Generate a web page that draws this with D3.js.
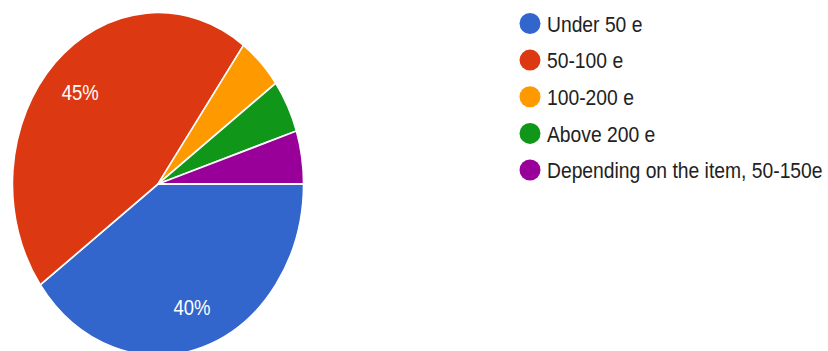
<!DOCTYPE html>
<html>
<head>
<meta charset="utf-8">
<script src="https://cdn.jsdelivr.net/npm/d3@7"></script>
<style>
  html, body { margin: 0; padding: 0; background: #fff; }
  svg { display: block; }
</style>
</head>
<body>
<svg id="chart" width="828" height="351"></svg>
<script>
const categories = ["Under 50 e", "50-100 e", "100-200 e", "Above 200 e", "Depending on the item, 50-150e"];
const values = [40, 45, 5, 5, 5];
const colors = ["#3366cc", "#dc3912", "#ff9900", "#109618", "#990099"];
const sliceLabels = ["40%", "45%", "", "", ""];

const W = 828, H = 351;
const R = 145.5;
const SY = 171.5 / R;         // vertical stretch of the whole picture
const cx = 158, cy = 184 / SY;

const svg = d3.select("#chart");
const root = svg.append("g").attr("transform", `scale(1,${SY})`);

const data = categories.map((c, i) => ({ cat: c, value: values[i], color: colors[i], label: sliceLabels[i] }));

const pie = d3.pie().value(d => d.value).sort(null)
  .startAngle(Math.PI / 2).endAngle(Math.PI / 2 + 2 * Math.PI);
const arcs = pie(data);
const arc = d3.arc().innerRadius(0).outerRadius(R);
const labelArc = d3.arc().innerRadius(110).outerRadius(110);

const pg = root.append("g").attr("transform", `translate(${cx},${cy})`);
pg.selectAll("path").data(arcs).join("path")
  .attr("d", arc)
  .attr("fill", d => d.data.color)
  .attr("stroke", "#ffffff")
  .attr("stroke-width", 1.5)
  .attr("stroke-linejoin", "round");

pg.selectAll("text").data(arcs.filter(d => d.data.label)).join("text")
  .attr("transform", d => `translate(${labelArc.centroid(d)})`)
  .attr("text-anchor", "middle")
  .attr("dy", "0.36em")
  .attr("fill", "#ffffff")
  .attr("font-family", "Arial, 'Liberation Sans', sans-serif")
  .attr("font-size", 18.5)
  .text(d => d.data.label);

// Legend
const legY = d3.scalePoint().domain(categories).range([23.5 / SY, 170 / SY]);
const lg = root.append("g");
const rows = lg.selectAll("g").data(data).join("g")
  .attr("transform", d => `translate(530,${legY(d.cat)})`);
rows.append("ellipse")
  .attr("rx", 10.5).attr("ry", 10.5 / SY)
  .attr("fill", d => d.color);
rows.append("text")
  .attr("x", 17)
  .attr("dy", "0.36em")
  .attr("fill", "#222222")
  .attr("font-family", "Arial, 'Liberation Sans', sans-serif")
  .attr("font-size", 19.3)
  .text(d => d.cat);
</script>
</body>
</html>
